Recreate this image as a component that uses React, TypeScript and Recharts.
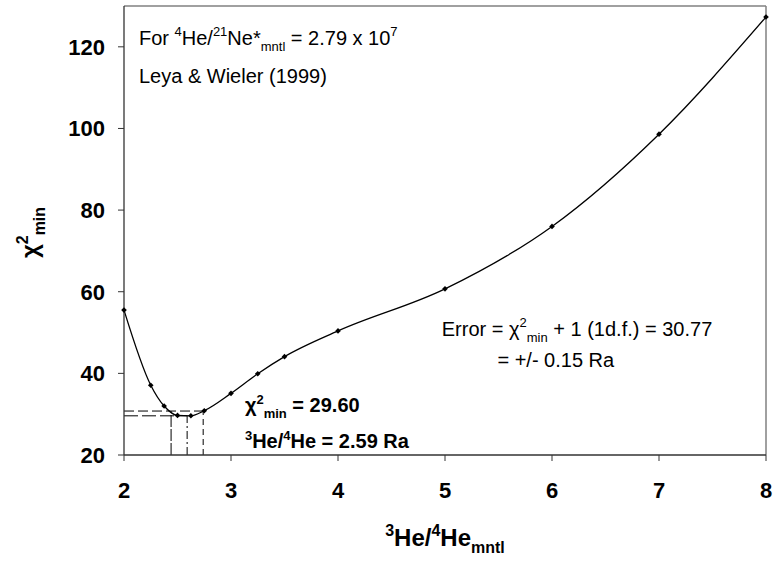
import React from "react";
import { LineChart, Line, XAxis, YAxis, ReferenceLine, ReferenceDot } from "recharts";

const ratios = [2, 2.25, 2.375, 2.5, 2.625, 2.75, 3, 3.25, 3.5, 4, 5, 6, 7, 8];
const chi2 = [55.5, 37.1, 32.0, 29.7, 29.6, 30.85, 35.1, 39.9, 44.1, 50.4, 60.7, 76.0, 98.6, 127.3];
const xTicks = [2, 3, 4, 5, 6, 7, 8];
const yTicks = [20, 40, 60, 80, 100, 120];

const chiMin = 29.6;
const chiErr = 30.77;
const bestRatio = 2.59;
const lowRatio = 2.44;
const highRatio = 2.74;

const data = ratios.map((x, i) => ({ x, y: chi2[i] }));

const FONT = "'Liberation Sans', Arial, Helvetica, sans-serif";

type Part = { t: string; s?: "sup" | "sub" };

function Rich({ x, y, parts, size, bold, anchor = "start", transform }: {
  x: number; y: number; parts: Part[]; size: number; bold?: boolean; anchor?: string; transform?: string;
}) {
  let cur = 0;
  const small = Math.round(size * 0.65);
  return (
    <text x={x} y={y} fontFamily={FONT} fontSize={size} fontWeight={bold ? "bold" : "normal"}
      fill="#000" textAnchor={anchor as any} transform={transform}>
      {parts.map((p, i) => {
        const target = p.s === "sup" ? -size * 0.42 : p.s === "sub" ? size * 0.3 : 0;
        const dy = target - cur;
        cur = target;
        return (
          <tspan key={i} dy={dy} fontSize={p.s ? small : size}>{p.t}</tspan>
        );
      })}
    </text>
  );
}

const textAt = (parts: Part[], size: number, bold = false) => (props: any) => (
  <Rich x={props.cx} y={props.cy} parts={parts} size={size} bold={bold} />
);

function Diamond(props: any) {
  const { cx, cy, index } = props;
  const r = 2.8;
  return (
    <polygon key={`d${index}`} points={`${cx},${cy - r} ${cx + r},${cy} ${cx},${cy + r} ${cx - r},${cy}`} fill="#000" />
  );
}

function XTitle({ viewBox }: any) {
  const cx = viewBox.x + viewBox.width / 2;
  return (
    <Rich x={cx} y={viewBox.y + 91} size={24} bold anchor="middle"
      parts={[{ t: "3", s: "sup" }, { t: "He/" }, { t: "4", s: "sup" }, { t: "He" }, { t: "mntl", s: "sub" }]} />
  );
}

function YTitle({ viewBox }: any) {
  const cx = viewBox.x + 38;
  const cy = viewBox.y + viewBox.height / 2 + 2;
  return (
    <Rich x={cx} y={cy} size={24} bold anchor="middle" transform={`rotate(-90, ${cx}, ${cy})`}
      parts={[{ t: "χ" }, { t: "2", s: "sup" }, { t: "min", s: "sub" }]} />
  );
}

export default function App() {
  return (
    <div style={{ position: "absolute", left: 0, top: 0, width: 775, height: 562, background: "#fff" }}>
      <LineChart width={775} height={562} data={data} margin={{ top: 6, right: 9, bottom: 0, left: 0 }}>
        <XAxis dataKey="x" type="number" domain={[2, 8]} ticks={xTicks} height={107}
          axisLine={{ stroke: "#333", strokeWidth: 1.3 }} tickLine={{ stroke: "#333" }} tickSize={6} tickMargin={21}
          tick={{ fontSize: 22, fontWeight: "bold", fill: "#000", fontFamily: FONT }}
          label={<XTitle />} />
        <YAxis type="number" domain={[20, 130]} ticks={yTicks} width={124}
          axisLine={{ stroke: "#333", strokeWidth: 1.3 }} tickLine={{ stroke: "#333" }} tickSize={6} tickMargin={13}
          tick={{ fontSize: 22, fontWeight: "bold", fill: "#000", fontFamily: FONT }}
          label={<YTitle />} />

        <ReferenceLine y={130} stroke="#808080" strokeWidth={1.5} />
        <ReferenceLine x={8} stroke="#808080" strokeWidth={1.5} />

        <ReferenceLine segment={[{ x: 2, y: chiErr }, { x: highRatio, y: chiErr }]} stroke="#000" strokeDasharray="10 4" />
        <ReferenceLine segment={[{ x: 2, y: chiMin }, { x: bestRatio, y: chiMin }]} stroke="#000" strokeDasharray="14 4" />
        <ReferenceLine segment={[{ x: lowRatio, y: 20 }, { x: lowRatio, y: chiErr }]} stroke="#000" strokeDasharray="12 2" />
        <ReferenceLine segment={[{ x: bestRatio, y: 20 }, { x: bestRatio, y: chiMin }]} stroke="#000" strokeDasharray="8 3 2 3" />
        <ReferenceLine segment={[{ x: highRatio, y: 20 }, { x: highRatio, y: chiErr }]} stroke="#000" strokeDasharray="6 4" />

        <Line dataKey="y" type="monotone" stroke="#000" strokeWidth={1.3} dot={<Diamond />} activeDot={false}
          isAnimationActive={false} />

        <ReferenceDot x={2.14} y={120.5} r={0} ifOverflow="visible"
          shape={textAt([{ t: "For " }, { t: "4", s: "sup" }, { t: "He/" }, { t: "21", s: "sup" }, { t: "Ne*" },
            { t: "mntl", s: "sub" }, { t: " = 2.79 x 10" }, { t: "7", s: "sup" }], 20)} />
        <ReferenceDot x={2.14} y={111.2} r={0} ifOverflow="visible"
          shape={textAt([{ t: "Leya & Wieler (1999)" }], 20)} />
        <ReferenceDot x={4.97} y={49.2} r={0} ifOverflow="visible"
          shape={textAt([{ t: "Error = χ" }, { t: "2", s: "sup" }, { t: "min", s: "sub" }, { t: " + 1 (1d.f.) = 30.77" }], 20)} />
        <ReferenceDot x={5.49} y={41.6} r={0} ifOverflow="visible"
          shape={textAt([{ t: "= +/- 0.15 Ra" }], 20)} />
        <ReferenceDot x={3.13} y={30.5} r={0} ifOverflow="visible"
          shape={textAt([{ t: "χ" }, { t: "2", s: "sup" }, { t: "min", s: "sub" }, { t: " = 29.60" }], 20, true)} />
        <ReferenceDot x={3.13} y={21.7} r={0} ifOverflow="visible"
          shape={textAt([{ t: "3", s: "sup" }, { t: "He/" }, { t: "4", s: "sup" }, { t: "He = 2.59 Ra" }], 20, true)} />
      </LineChart>
    </div>
  );
}
